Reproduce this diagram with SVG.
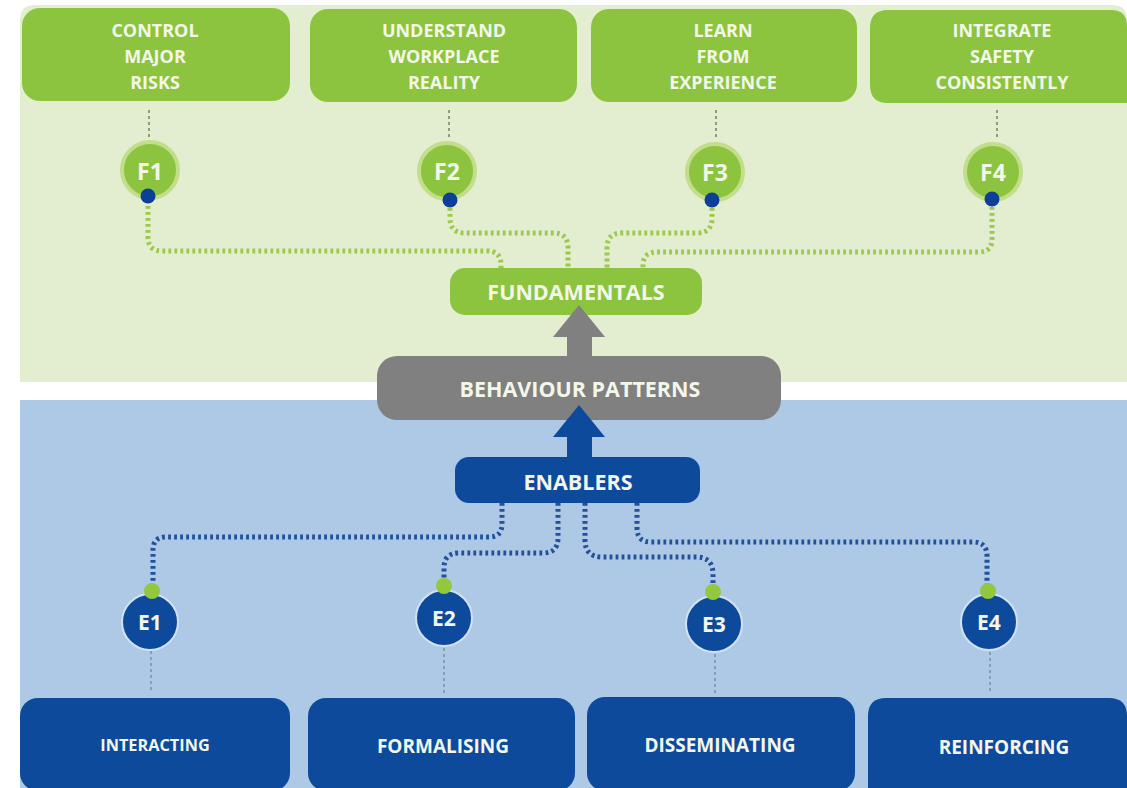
<svg xmlns="http://www.w3.org/2000/svg" width="1127" height="788" viewBox="0 0 1127 788">
<style>
.txt{font-family:"Open Sans","Noto Sans","DejaVu Sans",sans-serif;font-weight:700;text-anchor:middle;fill:#f2f7ea}
.gbox{fill:#8cc43f}
.bbox{fill:#0d4a9c}
.fcirc{fill:#8cc43f;stroke:#c2de8a;stroke-width:4}
.ecirc{fill:#0e4a9c;stroke:#d3e2f2;stroke-width:2}
.bdot{fill:#0d3e98}
.gdot{fill:#93c83e}
.gpath{fill:none;stroke:#9cc94d;stroke-width:5;stroke-dasharray:2.8 3.2}
.bpath{fill:none;stroke:#23509a;stroke-width:5;stroke-dasharray:2.8 3.2}
.fline{fill:none;stroke:#8d9d78;stroke-width:2;stroke-dasharray:3 3}
.eline{fill:none;stroke:#7f93ad;stroke-width:1.6;stroke-dasharray:3 3}
</style>
<rect x="0" y="0" width="1127" height="788" fill="#ffffff"/>
<path d="M20,382 V20 Q20,5 35,5 H1112 Q1127,5 1127,20 V382 Z" fill="#e3edcf"/>
<rect x="20" y="400" width="1107" height="388" fill="#adc9e6"/>

<g id="connectors">
  <line class="fline" x1="149" y1="110" x2="149" y2="138"/>
  <line class="fline" x1="449" y1="110" x2="449" y2="138"/>
  <line class="fline" x1="716" y1="110" x2="716" y2="138"/>
  <line class="fline" x1="997" y1="110" x2="997" y2="138"/>
  <path class="gpath" d="M148,206 V237 Q148,251 162,251 H487 Q501,251 501,265 V268"/>
  <path class="gpath" d="M450,208 V218 Q450,233 465,233 H553 Q568,233 568,248 V268"/>
  <path class="gpath" d="M712,208 V218 Q712,233 697,233 H622 Q607,233 607,248 V268"/>
  <path class="gpath" d="M992,207 V239 Q992,252 979,252 H658 Q643,252 643,265 V268"/>
  <path class="bpath" d="M502,503 V524 Q502,537 489,537 H166 Q153,537 153,550 V584"/>
  <path class="bpath" d="M558,503 V538 Q558,553 543,553 H459 Q444,553 444,568 V578"/>
  <path class="bpath" d="M585,503 V540 Q585,557 602,557 H696 Q713,557 713,574 V585"/>
  <path class="bpath" d="M637,503 V528 Q637,542 651,542 H973 Q987,542 987,556 V585"/>
  <line class="eline" x1="151" y1="651" x2="151" y2="693"/>
  <line class="eline" x1="444" y1="648" x2="444" y2="693"/>
  <line class="eline" x1="715" y1="654" x2="715" y2="693"/>
  <line class="eline" x1="990" y1="652" x2="990" y2="693"/>
</g>

<g id="box-control">
  <rect class="gbox" x="22" y="8" width="268" height="93" rx="18"/>
  <text class="txt" font-size="18"><tspan x="155" y="37">CONTROL</tspan><tspan x="155" y="63">MAJOR</tspan><tspan x="155" y="89">RISKS</tspan></text>
</g>
<g id="box-understand">
  <rect class="gbox" x="310" y="9" width="267" height="93" rx="18"/>
  <text class="txt" font-size="18"><tspan x="444" y="37">UNDERSTAND</tspan><tspan x="444" y="63">WORKPLACE</tspan><tspan x="444" y="89">REALITY</tspan></text>
</g>
<g id="box-learn">
  <rect class="gbox" x="591" y="9" width="266" height="93" rx="18"/>
  <text class="txt" font-size="18"><tspan x="723" y="37">LEARN</tspan><tspan x="723" y="63">FROM</tspan><tspan x="723" y="89">EXPERIENCE</tspan></text>
</g>
<g id="box-integrate">
  <path class="gbox" d="M870,28 Q870,10 888,10 H1111 Q1127,10 1127,26 V103 H888 Q870,103 870,85 Z"/>
  <text class="txt" font-size="18"><tspan x="1002" y="37">INTEGRATE</tspan><tspan x="1002" y="63">SAFETY</tspan><tspan x="1002" y="89">CONSISTENTLY</tspan></text>
</g>

<g id="node-f1">
  <circle class="fcirc" cx="150" cy="170" r="28"/>
  <text class="txt" font-size="23" x="150" y="180">F1</text>
  <circle class="bdot" cx="148" cy="196" r="7.5"/>
</g>
<g id="node-f2">
  <circle class="fcirc" cx="447" cy="171" r="28"/>
  <text class="txt" font-size="23" x="447" y="180">F2</text>
  <circle class="bdot" cx="450" cy="200" r="7.5"/>
</g>
<g id="node-f3">
  <circle class="fcirc" cx="715" cy="172" r="28"/>
  <text class="txt" font-size="23" x="715" y="181">F3</text>
  <circle class="bdot" cx="712" cy="200" r="7.5"/>
</g>
<g id="node-f4">
  <circle class="fcirc" cx="993" cy="172" r="28"/>
  <text class="txt" font-size="23" x="993" y="181">F4</text>
  <circle class="bdot" cx="992" cy="199" r="7.5"/>
</g>

<g id="node-fundamentals">
  <rect class="gbox" x="450" y="268" width="252" height="47" rx="15"/>
  <text class="txt" font-size="21.5" x="576" y="300">FUNDAMENTALS</text>
</g>
<g id="node-behaviour">
  <rect x="377" y="356" width="404" height="64" rx="20" fill="#808080"/>
  <text class="txt" font-size="21.5" x="580" y="397">BEHAVIOUR PATTERNS</text>
</g>
<g id="arrow-up-gray">
  <polygon points="579,305 605,337 592,337 592,357 567,357 567,337 553,337" fill="#808080"/>
</g>
<g id="node-enablers">
  <rect class="bbox" x="455" y="457" width="245" height="46" rx="14"/>
  <text class="txt" font-size="21.5" x="578" y="490">ENABLERS</text>
</g>
<g id="arrow-up-blue">
  <polygon points="579,405 605,437 592,437 592,458 567,458 567,437 553,437" fill="#0d4a9c"/>
</g>

<g id="node-e1">
  <circle class="ecirc" cx="150" cy="622" r="28"/>
  <text class="txt" font-size="21" x="150" y="630">E1</text>
  <circle class="gdot" cx="152" cy="591" r="8"/>
</g>
<g id="node-e2">
  <circle class="ecirc" cx="444" cy="618" r="28"/>
  <text class="txt" font-size="21" x="444" y="626">E2</text>
  <circle class="gdot" cx="444" cy="586" r="8"/>
</g>
<g id="node-e3">
  <circle class="ecirc" cx="714" cy="624" r="28"/>
  <text class="txt" font-size="21" x="714" y="632">E3</text>
  <circle class="gdot" cx="713" cy="592" r="8"/>
</g>
<g id="node-e4">
  <circle class="ecirc" cx="989" cy="622" r="28"/>
  <text class="txt" font-size="21" x="989" y="630">E4</text>
  <circle class="gdot" cx="988" cy="591" r="8"/>
</g>

<g id="box-interacting">
  <rect class="bbox" x="20" y="698" width="270" height="93" rx="18"/>
  <text class="txt" font-size="16.3" x="155" y="751">INTERACTING</text>
</g>
<g id="box-formalising">
  <rect class="bbox" x="308" y="698" width="267" height="93" rx="18"/>
  <text class="txt" font-size="19" x="443" y="753">FORMALISING</text>
</g>
<g id="box-disseminating">
  <rect class="bbox" x="587" y="697" width="268" height="94" rx="18"/>
  <text class="txt" font-size="19" x="720" y="752">DISSEMINATING</text>
</g>
<g id="box-reinforcing">
  <path class="bbox" d="M868,716 Q868,698 886,698 H1109 Q1127,698 1127,716 V791 H868 Z"/>
  <text class="txt" font-size="19" x="1004" y="754">REINFORCING</text>
</g>
</svg>
